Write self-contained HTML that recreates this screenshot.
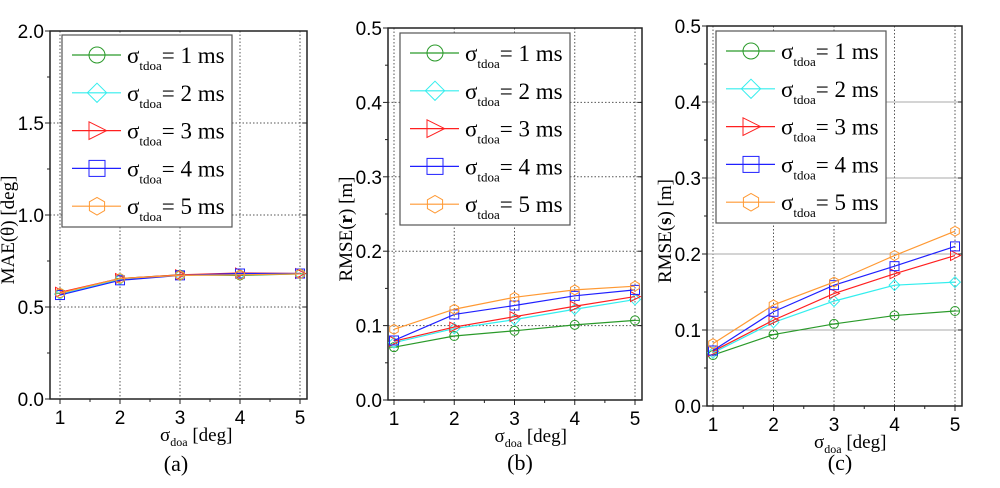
<!DOCTYPE html><html><head><style>body{margin:0;background:#fff}svg{display:block}</style></head><body>
<svg id="s" width="1000" height="488" xmlns="http://www.w3.org/2000/svg" font-family="Liberation Sans, sans-serif"></svg>
<script>
const C=['#2a9a2a','#33eeee','#ff2020','#2020ff','#ff9933'];
let o='';
function mk(t,x,y,r,c){r=r||4;
 if(t==0)return `<circle cx="${x}" cy="${y}" r="${r}" fill="none" stroke="${c}"/><line x1="${x-r}" y1="${y}" x2="${x+r}" y2="${y}" stroke="${c}"/>`;
 if(t==1)return `<polygon points="${x},${y-r*1.2} ${x+r*1.2},${y} ${x},${y+r*1.2} ${x-r*1.2},${y}" fill="none" stroke="${c}"/>`;
 if(t==2)return `<polygon points="${x-r},${y-r*1.1} ${x+r*1.2},${y} ${x-r},${y+r*1.1}" fill="none" stroke="${c}"/>`;
 if(t==3)return `<rect x="${x-r}" y="${y-r}" width="${2*r}" height="${2*r}" fill="none" stroke="${c}"/>`;
 let p=[];for(let i=0;i<6;i++){let a=Math.PI/3*i+Math.PI/6;p.push((x+r*1.1*Math.cos(a)).toFixed(1)+','+(y+r*1.1*Math.sin(a)).toFixed(1));}
 return `<polygon points="${p.join(' ')}" fill="none" stroke="${c}"/>`;}
function panel(P){
 const {L,R,T,B,x1,x5,ymax,step,lab,data,solid,leg,cap,capx,capy}=P;
 const X=v=>x1+(v-1)*(x5-x1)/4, Y=v=>B-v*(B-T)/ymax;
 for(let i=1;i<=5;i++)o+=`<line x1="${X(i)}" y1="${T}" x2="${X(i)}" y2="${B}" stroke="#555" stroke-dasharray="1.5,2"/>`;
 for(let k=1;k<5;k++){let y=Y(k*step);o+=solid?`<line x1="${L}" y1="${y}" x2="${R}" y2="${y}" stroke="#aaa"/>`:`<line x1="${L}" y1="${y}" x2="${R}" y2="${y}" stroke="#555" stroke-dasharray="1.5,2"/>`;}
 o+=`<rect x="${L}" y="${T}" width="${R-L}" height="${B-T}" fill="none" stroke="#222" stroke-width="1.5"/>`;
 for(let k=0;k<=5;k++){let y=Y(k*step);o+=`<line x1="${L-5}" y1="${y}" x2="${L}" y2="${y}" stroke="#222"/><line x1="${R-4}" y1="${y}" x2="${R}" y2="${y}" stroke="#222"/><text x="${L-6}" y="${y+7}" font-size="19" text-anchor="end">${(k*step).toFixed(1)}</text>`;
  if(k<5){let ym=Y((k+.5)*step);o+=`<line x1="${L-3}" y1="${ym}" x2="${L}" y2="${ym}" stroke="#222"/>`;}}
 for(let i=1;i<=5;i++){o+=`<line x1="${X(i)}" y1="${B}" x2="${X(i)}" y2="${B+5}" stroke="#222"/><text x="${X(i)}" y="${B+25}" font-size="19" text-anchor="middle">${i}</text>`;
  if(i<5)o+=`<line x1="${X(i+.5)}" y1="${B}" x2="${X(i+.5)}" y2="${B+3}" stroke="#222"/>`;}
 data.forEach((d,s)=>{o+=`<polyline points="${d.map((v,i)=>X(i+1)+','+Y(v)).join(' ')}" fill="none" stroke="${C[s]}" stroke-width="1.2"/>`;d.forEach((v,i)=>o+=mk(s,X(i+1),Y(v),4.5,C[s]));});
 o+=`<rect x="${leg[0]}" y="${leg[1]}" width="${leg[2]}" height="${leg[3]}" fill="#fff" stroke="#555" stroke-width="1.2"/>`;
 for(let s=0;s<5;s++){let y=leg[1]+20+s*37.8,x=leg[0];o+=`<line x1="${x+10}" y1="${y}" x2="${x+59}" y2="${y}" stroke="${C[s]}" stroke-width="1.2"/>`+mk(s,x+35,y,8,C[s])+`<text x="${x+65}" y="${y+8}" font-family="Liberation Serif, serif" font-size="23">σ<tspan font-size="13" dy="7">tdoa</tspan><tspan dy="-7">= ${s+1} ms</tspan></text>`;}
 o+=`<text transform="translate(${L-36},${(T+B)/2+15}) rotate(-90)" font-family="Liberation Serif, serif" font-size="19" text-anchor="middle">${lab}</text>`;
 o+=`<text x="${(x1+x5)/2-20}" y="${B+42}" font-family="Liberation Serif, serif" font-size="19">σ<tspan font-size="12" dy="5">doa</tspan><tspan dy="-5"> [deg]</tspan></text>`;
 o+=`<text x="${capx}" y="${capy}" font-family="Liberation Serif, serif" font-size="22" text-anchor="middle">${cap}</text>`;}
panel({L:50,R:307,T:31,B:399,x1:60,x5:300,ymax:2,step:.5,lab:'MAE(θ) [deg]',solid:0,leg:[62,35,170,192],cap:'(a)',capx:176,capy:471,
 data:[[.575,.655,.675,.672,.68],[.57,.65,.672,.678,.68],[.58,.655,.675,.685,.682],[.565,.645,.672,.682,.682],[.575,.655,.672,.675,.68]]});
panel({L:388,R:642,T:28,B:400,x1:394,x5:635,ymax:.5,step:.1,lab:'RMSE(<tspan font-weight="bold">r</tspan>) [m]',solid:0,leg:[400,33,170,192],cap:'(b)',capx:520,capy:470,
 data:[[.071,.086,.093,.101,.107],[.077,.096,.108,.122,.135],[.079,.098,.112,.126,.139],[.080,.115,.127,.140,.148],[.095,.122,.138,.148,.153]]});
panel({L:707,R:962,T:26,B:406,x1:713,x5:955,ymax:.5,step:.1,lab:'RMSE(<tspan font-weight="bold">s</tspan>) [m]',solid:1,leg:[716,31,170,192],cap:'(c)',capx:840,capy:470,
 data:[[.067,.094,.108,.119,.125],[.070,.110,.138,.159,.163],[.072,.113,.148,.174,.198],[.073,.124,.159,.184,.210],[.082,.133,.163,.198,.230]]});
document.getElementById('s').innerHTML=o;
</script></body></html>
